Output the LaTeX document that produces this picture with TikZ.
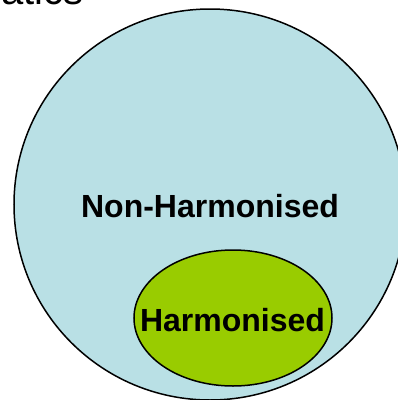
\documentclass[tikz,border=0pt]{standalone}
\usepackage{fontspec}
\setmainfont{Liberation Sans}
\usetikzlibrary{shapes.geometric}
\definecolor{outerblue}{RGB}{185,224,229}
\definecolor{innergreen}{RGB}{153,204,0}
\tikzset{
  setshape/.style={ellipse, draw=black, line width=1.5pt, inner sep=0pt},
  setlabel/.style={font=\bfseries\fontsize{32}{36}\selectfont, anchor=base, inner sep=0pt},
}
\begin{document}
\begin{tikzpicture}[x=1pt,y=-1pt]
\useasboundingbox (0,0) rectangle (398,400);
\node[setshape, fill=outerblue, minimum width=392pt, minimum height=391pt] (outer) at (210,204.5) {};
\node[setshape, fill=innergreen, minimum width=198pt, minimum height=136pt] (inner) at (233,318) {};
\node[setlabel] (nonh) at (210,217) {Non-Harmonised};
\node[setlabel] (harm) at (232.5,331) {Harmonised};
\node[font=\fontsize{40}{46}\selectfont, anchor=base east, inner sep=0pt] (title) at (84,4) {atics};
\end{tikzpicture}
\end{document}
